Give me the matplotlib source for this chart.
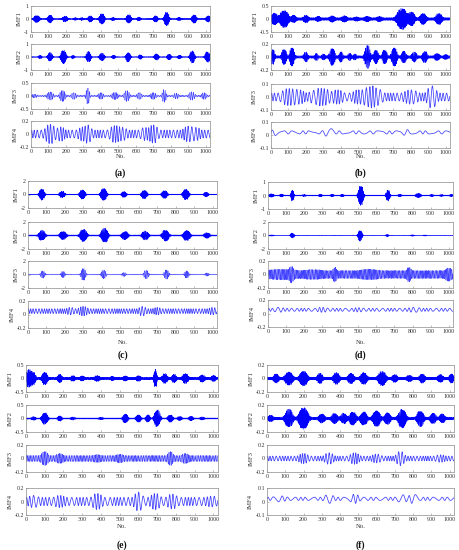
import numpy as np
import matplotlib
matplotlib.use("Agg")
import matplotlib.pyplot as plt

plt.rcParams['font.family'] = ['Liberation Serif', 'DejaVu Serif']

# Nombre d'échantillons par IMF
n_samples = 1024

# Bouffées : (centre, amplitude, demi-largeur)
a_imf1 = [(33, 0.25, 14), (109, 0.28, 12), (195, 0.2, 12), (253, 0.08, 8), (291, 0.08, 8),
          (339, 0.22, 11), (406, 0.38, 13), (469, 0.1, 9), (559, 0.3, 12), (617, 0.12, 9),
          (713, 0.22, 11), (776, 0.5, 12), (847, 0.1, 9), (933, 0.3, 12), (1015, 0.22, 12)]
a_imf2 = [(52, 0.1, 9), (109, 0.32, 11), (186, 0.5, 13), (240, 0.1, 8), (329, 0.4, 11),
          (406, 0.28, 12), (473, 0.12, 8), (556, 0.35, 11), (625, 0.15, 9), (718, 0.22, 11),
          (790, 0.2, 10), (850, 0.12, 9), (923, 0.45, 12), (1010, 0.38, 12)]
a_imf3 = [(20, 0.04, 12), (110, 0.13, 15), (180, 0.18, 14), (245, 0.1, 12), (325, 0.28, 9),
          (400, 0.1, 12), (480, 0.11, 15), (548, 0.18, 13), (620, 0.1, 12), (700, 0.1, 13),
          (762, 0.22, 10), (830, 0.08, 12), (920, 0.13, 14), (990, 0.1, 12)]
a_imf4 = [(110, 0.09, 22), (170, 0.05, 18), (300, 0.05, 22), (330, 0.06, 14), (480, 0.07, 22),
          (525, 0.04, 18), (650, 0.04, 18), (700, 0.08, 20), (900, 0.06, 22), (945, 0.04, 18)]

b_imf1 = [(20, 0.18, 15), (75, 0.28, 22), (130, 0.1, 12), (200, 0.1, 12), (270, 0.06, 10),
          (350, 0.08, 12), (420, 0.08, 12), (490, 0.04, 10), (550, 0.06, 12), (620, 0.06, 12),
          (750, 0.36, 25), (805, 0.22, 15), (870, 0.17, 15), (960, 0.17, 15)]
b_imf2 = [(10, 0.1, 10), (75, 0.1, 12), (120, 0.12, 12), (200, 0.06, 10), (260, 0.04, 8),
          (300, 0.03, 8), (350, 0.11, 14), (400, 0.06, 10), (450, 0.04, 8), (480, 0.03, 8),
          (552, 0.16, 14), (600, 0.09, 12), (650, 0.09, 12), (705, 0.12, 14), (760, 0.07, 12),
          (820, 0.06, 12), (880, 0.07, 12), (950, 0.04, 12), (1000, 0.02, 10)]
b_imf3 = [(100, 0.035, 30), (160, 0.025, 25), (250, 0.02, 25), (300, 0.035, 30), (380, 0.025, 25),
          (500, 0.025, 25), (560, 0.045, 25), (605, 0.035, 25), (800, 0.025, 30), (920, 0.055, 22)]
b_imf4 = [(30, 0.012, 20), (330, 0.022, 20), (770, 0.01, 20)]

c_imf1 = [(75, 0.8, 12), (185, 0.45, 12), (295, 0.65, 13), (410, 0.85, 14), (520, 0.4, 11),
          (630, 0.6, 13), (740, 0.55, 13), (855, 0.75, 14), (965, 0.3, 10)]
c_imf2 = [(75, 0.7, 15), (190, 0.55, 15), (300, 0.85, 16), (415, 1.0, 16), (525, 0.55, 15),
          (635, 0.6, 15), (745, 0.75, 16), (860, 0.7, 16), (970, 0.35, 13)]
c_imf3 = [(80, 0.5, 10), (190, 0.45, 9), (300, 0.85, 11), (410, 0.6, 11), (520, 0.25, 9),
          (640, 0.6, 11), (750, 0.65, 11), (860, 0.5, 10), (970, 0.2, 8)]
c_imf4 = [(230, 0.02, 15), (300, 0.035, 18), (620, 0.035, 15), (700, 0.02, 15), (1000, 0.02, 15)]

d_imf1 = [(19, 0.1, 10), (75, 0.08, 8), (135, 0.38, 7), (200, 0.04, 8), (290, 0.06, 8),
          (355, 0.06, 8), (411, 0.06, 8), (514, 0.7, 12), (664, 0.38, 9), (730, 0.06, 8),
          (832, 0.13, 12), (907, 0.05, 8), (960, 0.04, 8), (1015, 0.05, 8)]
d_imf2 = [(20, 0.06, 10), (135, 0.35, 9), (510, 0.8, 10), (660, 0.15, 7), (800, 0.08, 8),
          (870, 0.05, 8)]
d_imf3 = [(80, 0.02, 60), (130, 0.05, 10), (250, 0.015, 40), (370, 0.05, 9), (560, 0.02, 40),
          (780, 0.05, 10), (1000, 0.04, 15)]
d_imf4 = [(60, 0.015, 20), (300, 0.015, 20), (500, 0.01, 20), (810, 0.015, 25)]

e_imf1 = [(15, 0.3, 12), (40, 0.2, 10), (100, 0.2, 13), (180, 0.12, 10), (250, 0.07, 10),
          (300, 0.06, 10), (380, 0.07, 12), (460, 0.05, 8), (530, 0.06, 10), (600, 0.07, 10),
          (690, 0.3, 7), (740, 0.15, 12), (790, 0.12, 10), (850, 0.15, 13), (940, 0.1, 12),
          (1000, 0.08, 10)]
e_imf2 = [(40, 0.05, 10), (100, 0.2, 14), (180, 0.08, 10), (250, 0.04, 10), (400, 0.03, 10),
          (530, 0.15, 12), (600, 0.12, 12), (650, 0.12, 10), (700, 0.3, 14), (770, 0.12, 12),
          (820, 0.06, 10), (880, 0.07, 10), (940, 0.04, 10)]
e_imf3 = [(100, 0.06, 15), (180, 0.03, 15), (380, 0.015, 15), (500, 0.02, 15), (770, 0.06, 12),
          (850, 0.03, 15)]
e_imf4 = [(40, 0.03, 20), (180, 0.03, 20), (380, 0.06, 20), (600, 0.08, 18), (690, 0.06, 20),
          (780, 0.05, 20), (990, 0.02, 20)]

f_imf1 = [(50, 0.05, 12), (120, 0.08, 18), (200, 0.09, 18), (290, 0.06, 12), (380, 0.07, 14),
          (460, 0.06, 14), (530, 0.07, 15), (630, 0.09, 18), (700, 0.04, 12), (780, 0.03, 12),
          (850, 0.05, 12), (950, 0.04, 12), (1010, 0.05, 10)]
f_imf2 = [(20, 0.03, 12), (120, 0.12, 18), (200, 0.14, 22), (300, 0.05, 14), (370, 0.06, 14),
          (420, 0.06, 14), (470, 0.08, 16), (530, 0.08, 16), (600, 0.1, 18), (660, 0.07, 14),
          (740, 0.12, 18), (840, 0.1, 16), (910, 0.06, 14), (960, 0.05, 12)]
f_imf3 = [(200, 0.04, 20), (340, 0.05, 20), (480, 0.05, 20), (600, 0.03, 20), (730, 0.07, 18),
          (950, 0.02, 20)]
f_imf4 = [(70, 0.01, 25), (340, 0.022, 20), (480, 0.022, 20), (740, 0.018, 20), (800, 0.022, 20)]

# Niveau de fond entre les bouffées
a_base = [0.03, 0.03, 0.03, 0.06]
b_base = [0.05, 0.02, 0.03, 0.012]
c_base = [0.05, 0.08, 0.05, 0.035]
d_base = [0.03, 0.03, 0.06, 0.022]
e_base = [0.04, 0.02, 0.045, 0.06]
f_base = [0.02, 0.02, 0.035, 0.012]

# Période de l'oscillation (en échantillons)
a_period = [3.5, 5, 9, 18]
b_period = [3.5, 6, 20, 55]
c_period = [3.5, 5, 7, 14]
d_period = [3.5, 5, 7, 25]
e_period = [3.5, 5, 8, 20]
f_period = [3.5, 5, 16, 35]

# Décalage moyen de chaque IMF
a_offset = [0, 0, 0, 0]
b_offset = [0, 0, 0, 0.02]
c_offset = [0, 0, 0, 0.05]
d_offset = [0, 0, 0, 0.055]
e_offset = [0, 0, 0, 0]
f_offset = [0, 0, 0, 0.02]

# Limites en y
a_ylim = [1, 1, 0.5, 0.2]
b_ylim = [0.5, 0.2, 0.1, 0.1]
c_ylim = [2, 2, 2, 0.2]
d_ylim = [1, 2, 0.2, 0.2]
e_ylim = [0.5, 0.5, 0.2, 0.2]
f_ylim = [0.2, 0.2, 0.2, 0.1]

panel_labels = ["(a)", "(b)", "(c)", "(d)", "(e)", "(f)"]
x_ticks = list(range(0, 1001, 100))

# Mise en page (pixels) : gauche, droite, hauts des 4 axes, hauteur, y de "No." et du label
fig_w, fig_h = 460, 550
layout = {
    "(a)": (31, 210, [6, 44, 83, 121], 26, 157, 173),
    "(b)": (271, 450, [6, 44, 84, 122], 26, 157, 173),
    "(c)": (28, 217, [181, 222, 261, 301], 27, 342, 355),
    "(d)": (268, 453, [182, 222, 261, 300], 27, 342, 355),
    "(e)": (26, 218, [365, 405, 445, 488], 27, 527, 545),
    "(f)": (267, 454, [365, 405, 445, 488], 27, 527, 545),
}

panels = {
    "(a)": ([a_imf1, a_imf2, a_imf3, a_imf4], a_base, a_period, a_offset, a_ylim),
    "(b)": ([b_imf1, b_imf2, b_imf3, b_imf4], b_base, b_period, b_offset, b_ylim),
    "(c)": ([c_imf1, c_imf2, c_imf3, c_imf4], c_base, c_period, c_offset, c_ylim),
    "(d)": ([d_imf1, d_imf2, d_imf3, d_imf4], d_base, d_period, d_offset, d_ylim),
    "(e)": ([e_imf1, e_imf2, e_imf3, e_imf4], e_base, e_period, e_offset, e_ylim),
    "(f)": ([f_imf1, f_imf2, f_imf3, f_imf4], f_base, f_period, f_offset, f_ylim),
}


def build_signal(bursts, base, period, offset):
    # enveloppe en "bosses" aplaties + porteuse légèrement irrégulière
    t = np.arange(n_samples)
    env = np.full(n_samples, float(base))
    for c, a, w in bursts:
        env += a * np.exp(-0.5 * np.abs((t - c) / w) ** 3)
    phase = (2 * np.pi * t / period + 0.8 * np.sin(2 * np.pi * t / 173.0)
             + 1.2 * np.sin(2 * np.pi * t / 97.0))
    return offset + env * np.sin(phase)


def fmt(v):
    return "0" if v == 0 else "%g" % v


fig = plt.figure(figsize=(fig_w / 100, fig_h / 100), dpi=100)
frame_col = "#8c8c8c"
text_col = "#333333"

for lab in panel_labels:
    series, bases, periods, offsets, ylims = panels[lab]
    left, right, tops, h, no_y, lab_y = layout[lab]
    for i in range(4):
        ax = fig.add_axes([left / fig_w, 1 - (tops[i] + h) / fig_h,
                           (right - left) / fig_w, h / fig_h])
        y = build_signal(series[i], bases[i], periods[i], offsets[i])
        if i < 2:
            col, lw = "#0000ff", 0.45
        else:
            col, lw = "#4040ff", 0.4 if periods[i] < 10 else 0.55
        ax.plot(np.arange(n_samples), y, color=col, lw=lw)
        lim = ylims[i]
        ax.set_xlim(0, n_samples)
        ax.set_ylim(-lim, lim)
        ax.set_xticks(x_ticks)
        ax.set_xticklabels([str(v) for v in x_ticks])
        ax.set_yticks([-lim, 0, lim])
        ax.set_yticklabels([fmt(-lim), "0", fmt(lim)])
        ax.tick_params(direction="in", length=1.5, width=0.4, labelsize=4.3,
                       colors=frame_col, labelcolor=text_col, pad=1.5)
        for sp in ax.spines.values():
            sp.set_color(frame_col)
            sp.set_linewidth(0.5)
        ax.set_ylabel("IMF%d" % (i + 1), fontsize=4.8, color=text_col, labelpad=1.5)
    xc = (left + right) / 2 / fig_w
    fig.text(xc, 1 - no_y / fig_h, "No.", ha="center", va="center", fontsize=4.8, color=text_col)
    fig.text(xc, 1 - lab_y / fig_h, lab, ha="center", va="center", fontsize=7,
             fontweight="bold", color="#111111")

fig.savefig("out.png", dpi=100)
